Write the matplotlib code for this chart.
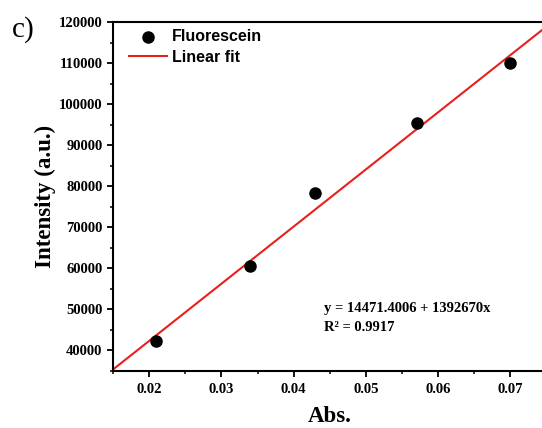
import matplotlib
matplotlib.use('Agg')
import matplotlib.pyplot as plt
import numpy as np
from matplotlib.ticker import MultipleLocator

# values
abs_vals = [0.021, 0.034, 0.043, 0.057, 0.070]
intensity = [42200, 60600, 78300, 95500, 110000]
fit_intercept = 14471.4006
fit_slope = 1392670
r_squared = 0.9917
x_ticks = [0.02, 0.03, 0.04, 0.05, 0.06, 0.07]
y_ticks = [40000, 50000, 60000, 70000, 80000, 90000, 100000, 110000, 120000]

serif = ['Liberation Serif', 'DejaVu Serif']
sans = ['Liberation Sans', 'DejaVu Sans']

fig = plt.figure(figsize=(5.42, 4.28), dpi=100)
ax = fig.add_axes([0.2085, 0.1332, 0.8, 0.8154])

x_lo, x_hi = 0.015, 0.075
fit_x = np.array([x_lo, x_hi])
fit_y = fit_intercept + fit_slope * fit_x

ax.scatter(abs_vals, intensity, s=64, color='black', zorder=3, label='Fluorescein')
ax.plot(fit_x, fit_y, color='#e8201c', lw=1.5, zorder=2, label='Linear fit')

ax.set_xlim(x_lo, x_hi)
ax.set_ylim(35000, 120000)
ax.set_xticks(x_ticks)
ax.set_yticks(y_ticks)
ax.set_xticklabels([f'{v:.2f}' for v in x_ticks])
ax.set_yticklabels([str(v) for v in y_ticks])
ax.xaxis.set_minor_locator(MultipleLocator(0.005))
ax.yaxis.set_minor_locator(MultipleLocator(5000))

for lab in ax.get_xticklabels() + ax.get_yticklabels():
    lab.set_family(serif)
    lab.set_fontweight('bold')
    lab.set_fontsize(10.5)

ax.tick_params(which='major', direction='out', length=4.5, width=1.3, pad=4.5)
ax.tick_params(axis='y', which='major', pad=3)
ax.tick_params(which='minor', direction='out', length=2.5, width=1.1)
ax.tick_params(top=False, right=False, which='both')
for side in ['left', 'bottom', 'top']:
    ax.spines[side].set_linewidth(1.5)
ax.spines['right'].set_visible(False)

ax.set_xlabel('Abs.', family=serif, fontweight='bold', fontsize=16.5, labelpad=7)
ax.set_ylabel('Intensity (a.u.)', family=serif, fontweight='bold', fontsize=16.5, labelpad=2)

leg = ax.legend(loc='upper left', bbox_to_anchor=(0.036, 0.979), frameon=False,
                prop={'family': sans, 'weight': 'bold', 'size': 11.5},
                handlelength=2.4, handletextpad=0.3, labelspacing=0.35,
                borderaxespad=0, borderpad=0)

ax.text(0.487, 0.18, f'y = {fit_intercept} + {fit_slope}x', transform=ax.transAxes,
        family=serif, fontweight='bold', fontsize=10.5, va='center')
ax.text(0.487, 0.126, f'R\u00b2 = {r_squared}', transform=ax.transAxes,
        family=serif, fontweight='bold', fontsize=10.5, va='center')

fig.text(12 / 542, 1 - 37 / 428, 'c)', family=serif, fontsize=21, va='baseline')

fig.savefig('out.png', dpi=100)
